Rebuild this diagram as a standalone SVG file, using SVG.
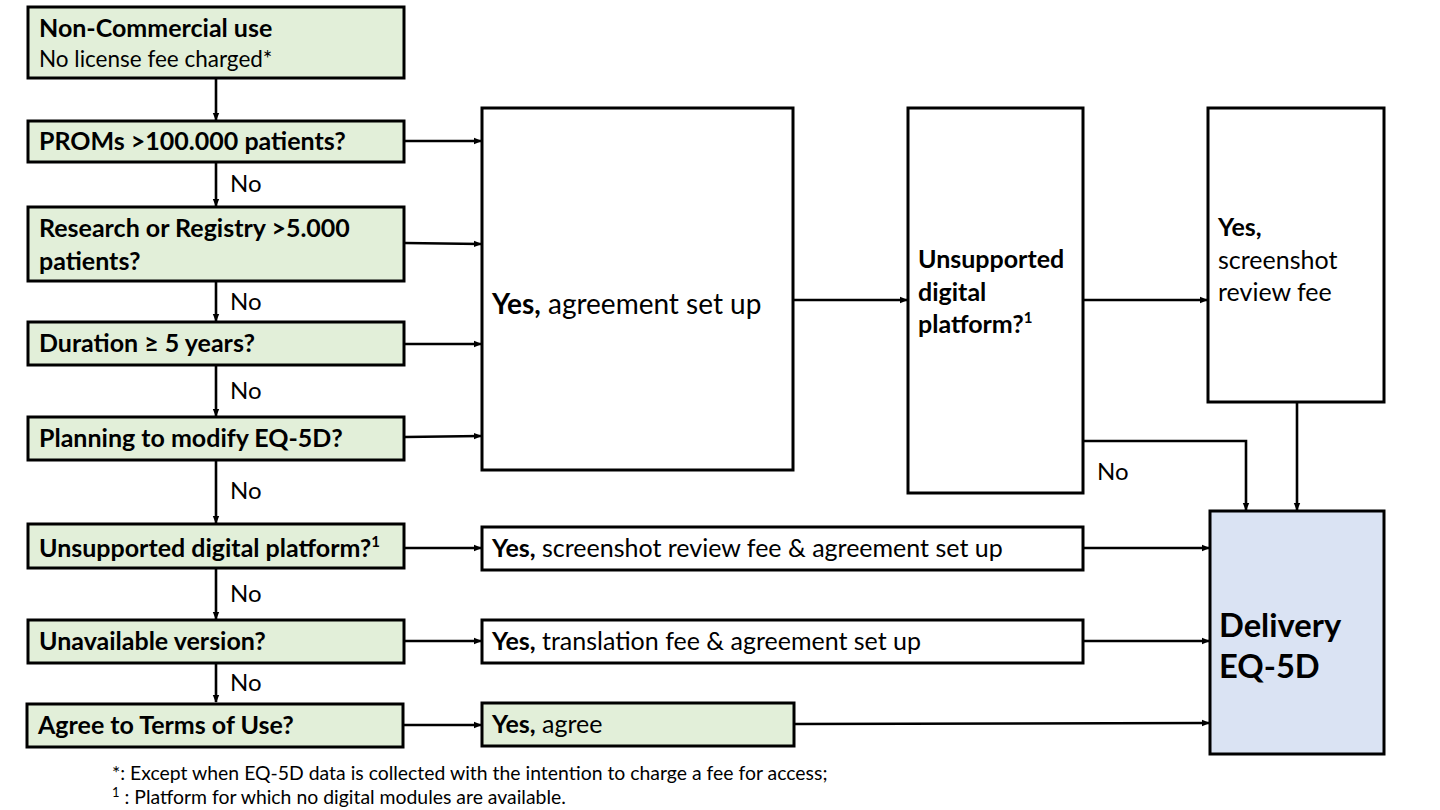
<svg xmlns="http://www.w3.org/2000/svg" width="1440" height="810" viewBox="0 0 1440 810">
<style>
.box{stroke:#000;stroke-width:3;}
.g{fill:#E2EFD9;}
.w{fill:#FFFFFF;}
.b{fill:#DAE3F3;}
text{font-family:Lato,"Liberation Sans",sans-serif;fill:#000;}
.t{font-size:25px;font-weight:bold;}
.r{font-size:25px;}
.s{font-size:22.5px;}
.lg{font-size:28px;}
.n{font-size:24px;}
.fn{font-size:19.4px;}
.big{font-size:32.7px;font-weight:bold;}
.c{stroke:#000;stroke-width:2.6;fill:none;marker-end:url(#ah);}
</style>
<defs>
<marker id="ah" markerWidth="8" markerHeight="8" refX="7" refY="4" orient="auto" markerUnits="userSpaceOnUse">
<path d="M0,0.8 L8,4 L0,7.2 Z" fill="#000"/>
</marker>
</defs>
<rect width="1440" height="810" fill="#fff"/>
<g id="connectors">
<line class="c" x1="216" y1="79" x2="216" y2="120"/>
<line class="c" x1="216" y1="163" x2="216" y2="206"/>
<line class="c" x1="216" y1="282" x2="216" y2="321"/>
<line class="c" x1="216" y1="366" x2="216" y2="416"/>
<line class="c" x1="216" y1="461" x2="216" y2="523"/>
<line class="c" x1="216" y1="569" x2="216" y2="619"/>
<line class="c" x1="216" y1="664" x2="216" y2="702"/>
<line class="c" x1="405" y1="141" x2="481" y2="141"/>
<line class="c" x1="405" y1="243" x2="481" y2="244"/>
<line class="c" x1="405" y1="344" x2="481" y2="344"/>
<line class="c" x1="405" y1="437" x2="481" y2="436"/>
<line class="c" x1="405" y1="548" x2="481" y2="548"/>
<line class="c" x1="405" y1="641" x2="481" y2="641"/>
<line class="c" x1="404" y1="725" x2="481" y2="725"/>
<line class="c" x1="793" y1="300" x2="907" y2="300"/>
<line class="c" x1="1083" y1="300" x2="1207" y2="300"/>
<polyline class="c" points="1083,441 1246,441 1246,510"/>
<line class="c" x1="1297" y1="402" x2="1297" y2="510"/>
<line class="c" x1="1083" y1="548" x2="1209" y2="548"/>
<line class="c" x1="1083" y1="641" x2="1209" y2="641"/>
<line class="c" x1="795" y1="724" x2="1209" y2="723"/>
<text class="n" x="230" y="192">No</text>
<text class="n" x="230" y="310">No</text>
<text class="n" x="230" y="399">No</text>
<text class="n" x="230" y="499">No</text>
<text class="n" x="230" y="602">No</text>
<text class="n" x="230" y="691">No</text>
<text class="n" x="1097" y="480">No</text>
</g>
<g id="n1"><rect class="box g" x="28" y="7" width="376" height="71"/>
<text class="t" x="39" y="37">Non-Commercial use</text>
<text class="s" x="39" y="67">No license fee charged*</text></g>
<g id="n2"><rect class="box g" x="28" y="121" width="376" height="41"/>
<text class="t" x="39" y="150">PROMs &gt;100.000 patients?</text></g>
<g id="n3"><rect class="box g" x="28" y="207" width="376" height="74"/>
<text class="t" x="39" y="237">Research or Registry &gt;5.000</text>
<text class="t" x="39" y="270">patients?</text></g>
<g id="n4"><rect class="box g" x="28" y="322" width="376" height="43"/>
<text class="t" x="39" y="352">Duration ≥ 5 years?</text></g>
<g id="n5"><rect class="box g" x="28" y="417" width="376" height="43"/>
<text class="t" x="39" y="447">Planning to modify EQ-5D?</text></g>
<g id="n6"><rect class="box g" x="28" y="524" width="376" height="44"/>
<text class="t" x="39" y="557">Unsupported digital platform?<tspan font-size="15" dy="-10">1</tspan></text></g>
<g id="n7"><rect class="box g" x="28" y="620" width="376" height="43"/>
<text class="t" x="39" y="650">Unavailable version?</text></g>
<g id="n8"><rect class="box g" x="27" y="704" width="376" height="43"/>
<text class="t" x="38" y="734">Agree to Terms of Use?</text></g>
<g id="n9"><rect class="box w" x="482" y="108" width="311" height="362"/>
<text class="lg" x="492" y="314"><tspan font-weight="bold">Yes,</tspan> agreement set up</text></g>
<g id="n10"><rect class="box w" x="908" y="108" width="175" height="385"/>
<text class="t" x="918" y="268">Unsupported</text>
<text class="t" x="918" y="301">digital</text>
<text class="t" x="918" y="333">platform?<tspan font-size="15" dy="-10">1</tspan></text></g>
<g id="n11"><rect class="box w" x="1208" y="108" width="176" height="294"/>
<text class="t" x="1218" y="236">Yes,</text>
<text class="r" x="1218" y="269">screenshot</text>
<text class="r" x="1218" y="301">review fee</text></g>
<g id="n12"><rect class="box w" x="482" y="527" width="601" height="43"/>
<text class="r" x="492" y="557"><tspan font-weight="bold">Yes,</tspan> screenshot review fee &amp; agreement set up</text></g>
<g id="n13"><rect class="box w" x="482" y="620" width="601" height="43"/>
<text class="r" x="492" y="650"><tspan font-weight="bold">Yes,</tspan> translation fee &amp; agreement set up</text></g>
<g id="n14"><rect class="box g" x="482" y="703" width="312" height="43"/>
<text class="r" x="492" y="733"><tspan font-weight="bold">Yes,</tspan> agree</text></g>
<g id="n15"><rect class="box b" x="1210" y="511" width="174" height="243"/>
<text class="big" x="1219" y="637">Delivery</text>
<text class="big" x="1219" y="678">EQ-5D</text></g>
<g id="footnotes">
<text class="fn" x="112" y="780">*: Except when EQ-5D data is collected with the intention to charge a fee for access;</text>
<text class="fn" x="112" y="804"><tspan font-size="13" dy="-7">1</tspan><tspan dy="7"> : Platform for which no digital modules are available.</tspan></text>
</g>
</svg>
